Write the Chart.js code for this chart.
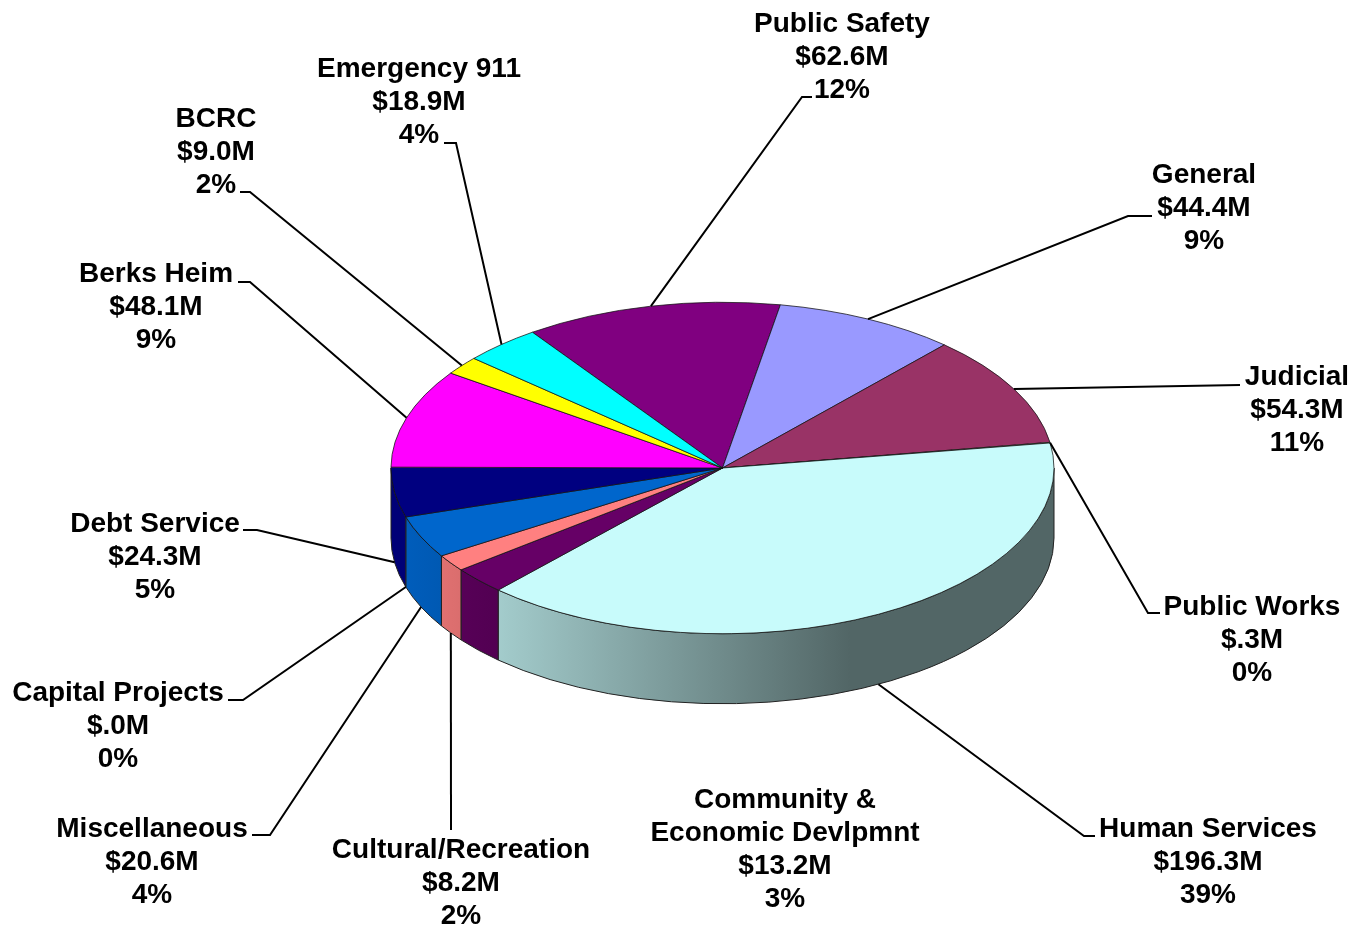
<!DOCTYPE html>
<html>
<head>
<meta charset="utf-8">
<title>County budget by function</title>
<style>
  html, body { margin: 0; background: #fff; }
  #pie { display: block; }
</style>
<script src="https://cdn.jsdelivr.net/npm/chart.js@4"></script>
</head>
<body>
<canvas id="pie" width="1364" height="928"></canvas>
<script>
const categories = ['Public Safety', 'General', 'Judicial', 'Public Works', 'Human Services',
  'Community &\nEconomic Devlpmnt', 'Cultural/Recreation', 'Miscellaneous', 'Capital Projects',
  'Debt Service', 'Berks Heim', 'BCRC', 'Emergency 911']
const amounts = [62.6, 44.4, 54.3, 0.3, 196.3, 13.2, 8.2, 20.6, 0.0, 24.3, 48.1, 9.0, 18.9]
const percents = [12, 9, 11, 0, 39, 3, 2, 4, 0, 5, 9, 2, 4]
const sliceColors = ['#800080', '#9999FF', '#993366', '#FFFFCC', '#C8FBFB',
  '#660066', '#FF8080', '#0066CC', '#CCCCFF', '#000080', '#FF00FF', '#FFFF00', '#00FFFF']

// label block: centre x and baseline of its first line
const labelSpots = [[842, 32], [1204, 183], [1297, 385], [1252, 615], [1208, 837],
  [785, 808], [461, 858], [152, 837], [118, 701], [155, 532], [156, 282], [216, 127], [419, 77]]
// leader knee and end, null where a slice has no leader
const leaders = [[[802, 97], [812, 97]], [[1128, 216], [1152, 216]], [[1240, 385], [1240, 385]],
  [[1148, 613], [1160, 613]], [[1084, 836], [1095, 836]], null, [[451, 830], [451, 830]],
  [[270, 835], [252, 835]], [[243, 700], [228, 700]], [[257, 530], [243, 530]],
  [[250, 282], [238, 282]], [[250, 192], [240, 192]], [[456, 143], [444, 143]]]

const TILT = 0.5
const DEPTH = 70
const LINE_HEIGHT = 33

const money = v => '$' + v.toFixed(1).replace(/^0/, '') + 'M'

function shaded(hex, f) {
  const n = parseInt(hex.slice(1), 16)
  return `rgb(${(n >> 16) * f | 0},${(n >> 8 & 255) * f | 0},${(n & 255) * f | 0})`
}

// squash the pie into an ellipse and give it a rim
const tiltedPie = {
  id: 'tiltedPie',
  beforeDatasetsDraw(chart) {
    const ctx = chart.ctx
    chart.getDatasetMeta(0).data.forEach((arc, i) => {
      const a = Math.max(arc.startAngle, 0)
      const b = Math.min(arc.endAngle, Math.PI)
      if (b <= a) return
      const rx = arc.outerRadius, ry = rx * TILT
      const light = ctx.createLinearGradient(390, 0, 850, 0)
      light.addColorStop(0, shaded(sliceColors[i], 0.94))
      light.addColorStop(1, shaded(sliceColors[i], 0.41))
      ctx.beginPath()
      ctx.ellipse(arc.x, arc.y, rx, ry, 0, a, b)
      ctx.ellipse(arc.x, arc.y + DEPTH, rx, ry, 0, b, a, true)
      ctx.closePath()
      ctx.fillStyle = light
      ctx.fill()
      ctx.strokeStyle = '#222'
      ctx.lineWidth = 1
      ctx.stroke()
    })
    const { x, y } = chart.getDatasetMeta(0).data[0]
    ctx.save()
    ctx.translate(x, y)
    ctx.scale(1, TILT)
    ctx.translate(-x, -y)
  },
  afterDatasetsDraw(chart) {
    const ctx = chart.ctx
    ctx.restore()

    ctx.strokeStyle = '#000'
    ctx.lineWidth = 2
    chart.getDatasetMeta(0).data.forEach((arc, i) => {
      if (!leaders[i]) return
      const mid = (arc.startAngle + arc.endAngle) / 2
      const rim = Math.sin(mid) > 0 ? DEPTH : 0
      ctx.beginPath()
      ctx.moveTo(arc.x + arc.outerRadius * Math.cos(mid), arc.y + arc.outerRadius * TILT * Math.sin(mid) + rim)
      leaders[i].forEach(p => ctx.lineTo(p[0], p[1]))
      ctx.stroke()
    })

    ctx.fillStyle = '#000'
    ctx.font = 'bold 28px "Liberation Sans", Arial, sans-serif'
    ctx.textAlign = 'center'
    categories.forEach((name, i) => {
      const lines = [...name.split('\n'), money(amounts[i]), percents[i] + '%']
      lines.forEach((t, n) => ctx.fillText(t, labelSpots[i][0], labelSpots[i][1] + n * LINE_HEIGHT))
    })
  }
}

new Chart(document.getElementById('pie'), {
  type: 'pie',
  data: {
    labels: categories,
    datasets: [{
      data: amounts,
      backgroundColor: sliceColors,
      borderColor: '#111',
      borderWidth: 1,
    }],
  },
  options: {
    responsive: false,
    animation: false,
    radius: 331.5,
    rotation: -35,
    layout: { padding: { left: 81, top: 8 } },
    plugins: { legend: { display: false }, tooltip: { enabled: false } },
  },
  plugins: [tiltedPie],
})
</script>
</body>
</html>
